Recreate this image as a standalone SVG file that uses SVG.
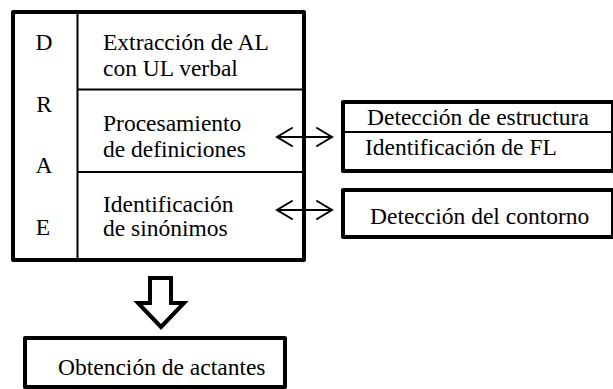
<svg xmlns="http://www.w3.org/2000/svg" width="613" height="389" viewBox="0 0 613 389">
<style>
text{font-size:23.5px;fill:#000}
.thick{fill:#fff;stroke:#000;stroke-width:4;stroke-linejoin:round}
.thin{stroke:#000;stroke-width:2;fill:none}
.arr{stroke:#000;stroke-width:2;fill:none;stroke-linecap:round;stroke-linejoin:miter}
.mid{text-anchor:middle}
</style>
<rect width="613" height="389" fill="#fff"/>
<g font-family="'Liberation Serif', 'Times New Roman', 'DejaVu Serif', serif">
<g id="drae">
<rect class="thick" x="13" y="12" width="291" height="248"/>
<line class="thin" x1="77.5" y1="12" x2="77.5" y2="260"/>
<line class="thin" x1="77.5" y1="89.5" x2="304" y2="89.5"/>
<line class="thin" x1="77.5" y1="172" x2="304" y2="172"/>
<text class="mid" x="44" y="50">D</text>
<text class="mid" x="44" y="112">R</text>
<text class="mid" x="44" y="173">A</text>
<text class="mid" x="43" y="235">E</text>
<text x="103" y="50">Extracción de AL</text>
<text x="103" y="76">con UL verbal</text>
<text x="103" y="131">Procesamiento</text>
<text x="103" y="157">de definiciones</text>
<text x="103" y="212">Identificación</text>
<text x="103" y="236">de sinónimos</text>
</g>
<g id="box-estructura">
<rect class="thick" x="343" y="102" width="270" height="69"/>
<line class="thin" x1="343" y1="132" x2="613" y2="132"/>
<text x="367" y="125">Detección de estructura</text>
<text x="365" y="155">Identificación de FL</text>
</g>
<g id="box-contorno">
<rect class="thick" x="343" y="190" width="270" height="47"/>
<text x="370" y="224">Detección del contorno</text>
</g>
<g id="box-actantes">
<rect class="thick" x="25" y="338" width="260" height="49"/>
<text x="58" y="375">Obtención de actantes</text>
</g>
</g>
<g id="connectors">
<path class="arr" d="M277 137H332M292 128L277 137L292 146M317 128L332 137L317 146"/>
<path class="arr" d="M277 210H332M292 201L277 210L292 219M317 201L332 210L317 219"/>
<path d="M150 278H171V303H184L161 327L138 303H150Z" fill="#fff" stroke="#000" stroke-width="4" stroke-linejoin="miter"/>
</g>
</svg>
